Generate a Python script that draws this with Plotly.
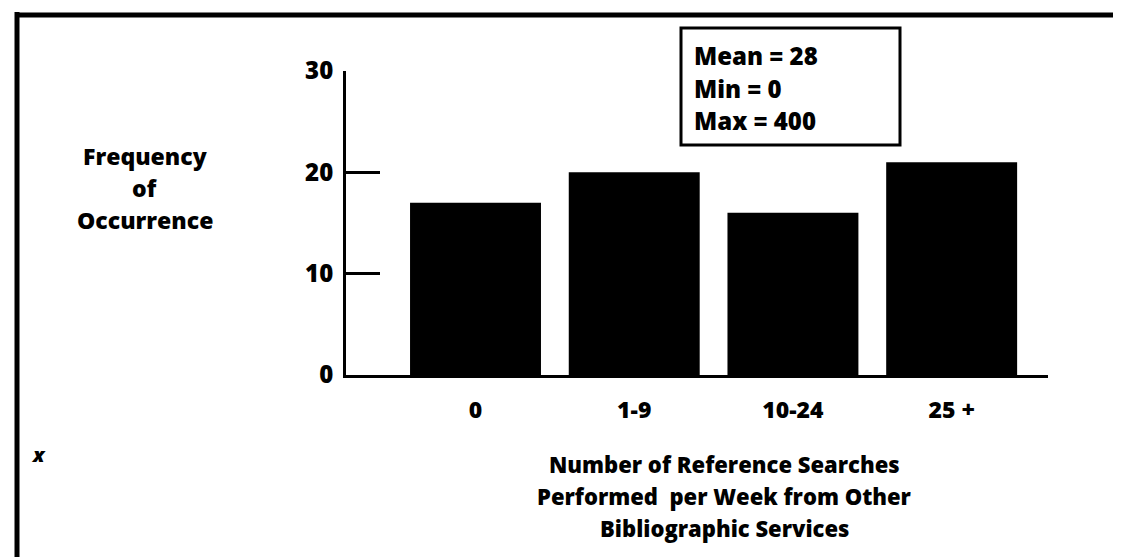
import plotly.graph_objects as go

categories = ["0", "1-9", "10-24", "25 +"]
frequency = [17, 20, 16, 21]
y_ticks = [0, 10, 20, 30]
y_title_lines = ["Frequency", "of", "Occurrence"]
x_title_lines = ["Number of Reference Searches", "Performed  per Week from Other", "Bibliographic Services"]
stats_lines = ["Mean = 28", "Min = 0", "Max = 400"]

W, H = 1121, 557
L, R, T, B = 338, 81, 63, 190
PW, PH = W - L - R, H - T - B


def px(x):
    return (x - L) / PW


def py(y):
    return (H - B - y) / PH


FONT = "Open Sans"


def bold(s):
    return dict(family=FONT, size=s, color="black", weight=800)


fig = go.Figure()
fig.add_trace(go.Bar(x=list(range(len(categories))), y=frequency,
                     marker=dict(color="black", line=dict(width=0)),
                     hoverinfo="skip", showlegend=False))

fig.update_layout(
    width=W, height=H,
    margin=dict(l=L, r=R, t=T, b=B, pad=0),
    paper_bgcolor="white", plot_bgcolor="white",
    bargap=0.175,
    xaxis=dict(range=[-0.816, 3.607], tickvals=list(range(len(categories))),
               ticktext=categories, showline=True, linewidth=3, linecolor="black",
               ticks="", showgrid=False, zeroline=False, tickfont=bold(23),
               ticklabelstandoff=12),
    yaxis=dict(range=[0, 30], tickvals=y_ticks, showline=True, linewidth=3,
               linecolor="black", ticks="inside", ticklen=34, tickwidth=3,
               tickcolor="black", showgrid=False, zeroline=False,
               tickfont=bold(24), ticklabelstandoff=5),
)

ann = []
for i, t in enumerate(y_title_lines):
    ann.append(dict(text=t, x=px(137), y=py(148 + 32 * i), xref="paper", yref="paper",
                    xanchor="center", yanchor="middle", showarrow=False, font=bold(23)))
for i, t in enumerate(x_title_lines):
    ann.append(dict(text=t, x=px(716), y=py(456 + 32 * i), xref="paper", yref="paper",
                    xanchor="center", yanchor="middle", showarrow=False, font=bold(22)))
for i, t in enumerate(stats_lines):
    ann.append(dict(text=t, x=px(684), y=py(48 + 32 * i), xref="paper", yref="paper",
                    xanchor="left", yanchor="middle", showarrow=False, font=bold(24)))
ann.append(dict(text="x", x=px(30), y=py(446), xref="paper", yref="paper",
                xanchor="center", yanchor="middle", showarrow=False,
                font=dict(family=FONT, size=20, color="black", weight=800, style="italic")))
fig.update_layout(annotations=ann)

shapes = [
    dict(type="rect", xref="paper", yref="paper", x0=px(673), x1=px(892), y0=py(137), y1=py(20),
         line=dict(color="black", width=3)),
    dict(type="line", xref="paper", yref="paper", x0=px(9), x1=px(9), y0=py(4), y1=py(557),
         line=dict(color="black", width=5)),
    dict(type="line", xref="paper", yref="paper", x0=px(7), x1=px(1121), y0=py(7), y1=py(7),
         line=dict(color="black", width=5)),
    dict(type="line", xref="paper", yref="paper", x0=px(130), x1=px(620), y0=py(554), y1=py(554),
         line=dict(color="black", width=3, dash="dash")),
    dict(type="line", xref="paper", yref="paper", x0=px(620), x1=px(1121), y0=py(554), y1=py(554),
         line=dict(color="black", width=3)),
]
fig.update_layout(shapes=shapes)

fig.write_html("out.html")
